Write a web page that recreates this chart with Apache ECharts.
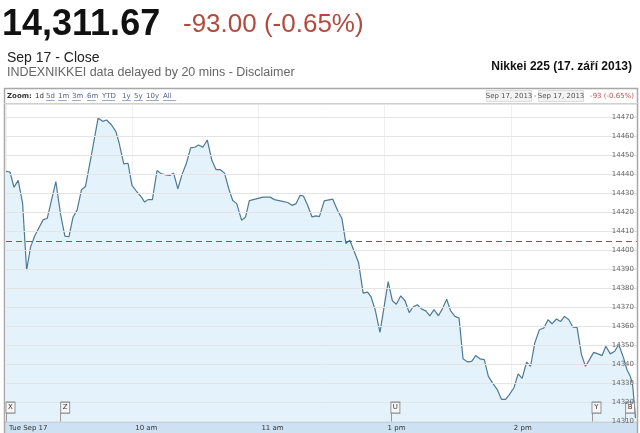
<!DOCTYPE html>
<html>
<head>
<meta charset="utf-8">
<script src="https://cdn.jsdelivr.net/npm/echarts@6/dist/echarts.min.js"></script>
<style>html,body{margin:0;padding:0;background:#fff;}#c{width:640px;height:433px;}</style>
</head>
<body>
<div id="c"></div>
<script>
// trading minutes since 9:00 open (lunch break removed)
const minutes = [0,1.9,3.8,5.8,7.9,9.8,11.7,13.8,15.8,17.7,19.6,23.7,25.9,28,29.9,31.9,33.8,35.9,37.8,40.7,43.8,45.9,47.8,50.1,52.2,53.7,56,58,59.9,62.3,64.4,65.9,67.5,69.6,71.8,73.9,76.2,77.8,79.7,81.7,83.8,85.7,87.8,89.7,91.6,93.6,95.7,97.9,99.9,101.9,103.9,105.9,107.8,109.7,112,113.9,115.7,118.1,122.1,125.6,127.6,131.5,133.9,136,137.9,139.8,141.4,143.4,145.5,147.4,149,151.3,155.3,157.6,159.7,161.6,163.5,165.6,167.6,169.8,171.9,173.5,175.5,177.8,179.8,181.7,183.7,185.6,187.7,189.7,191.7,193.5,195.6,197.7,199.6,201.5,203.5,205.6,207.4,209.5,211.4,213.5,215.4,217.3,219.3,221.4,223.3,225.3,227.4,229.3,231.2,233.5,235.6,237.5,239.4,241.5,243.5,245.4,247.5,249.4,251.4,253.6,255.7,257.7,259.6,261.7,263.6,265.5,267.6,269.5,271.5,273.6,275.5,277.4,279.4,281.5,283.4,285.2,287.3,289.4,291.3,293.6,295.2,296.8,297.9,299.3];
const prices = [14441.3,14441,14433,14436.6,14424.5,14389.5,14401.7,14407.8,14412,14416,14416.6,14436,14419,14407.3,14407,14417.4,14421,14431.7,14433.4,14450.5,14469.3,14467.6,14468.3,14465.8,14462.3,14456.6,14445.3,14445.6,14434,14430.5,14427.8,14425.2,14426.5,14426.5,14441.8,14440,14439.5,14439.2,14440.4,14432.2,14440,14445.3,14453.7,14454,14455.2,14454,14457.8,14447,14442.2,14442.2,14440.4,14432.2,14426,14424.4,14415.7,14417.4,14426,14426.6,14427.8,14427.8,14426.5,14425.6,14425,14423.5,14424.4,14428.7,14428.4,14423.5,14417.4,14418,14417.6,14425.8,14426.8,14420.9,14416.6,14403.5,14405.2,14399.1,14393.5,14377.4,14377.9,14375.6,14368.7,14356.8,14370.4,14383.4,14373.4,14371.6,14376,14373.4,14367.2,14370.1,14371.3,14369,14368.1,14365.5,14368.7,14365.5,14369,14374.2,14368.1,14365.2,14364.3,14342.9,14341.3,14341.6,14344.6,14342.9,14342.5,14333.8,14330.4,14326.9,14321.6,14321.6,14324.2,14327.7,14335,14332.6,14341.1,14339,14351.3,14358.2,14359.1,14363.4,14361.3,14363.8,14362.5,14365.2,14363.4,14359.6,14359.4,14345.1,14339,14342.5,14346.3,14345.5,14344.6,14349.5,14345.5,14346.9,14350.4,14343.4,14337.3,14333.8,14329.5,14311.67];
const previousClose = 14404.67;
const tickMinutes = [0, 60, 120, 180, 240];
const tickLabels = ['Tue Sep 17', '10 am', '11 am', '1 pm', '2 pm'];
const flagLetters = ['X', 'Z', 'U', 'Y', 'B'];
const flagMinutes = [0, 26, 183, 278.6, 294.6];
const zoomLinks = ['5d', '1m', '3m', '6m', 'YTD', '1y', '5y', '10y', 'All'];
const yMin = 14310, yMax = 14476.7, yStep = 10;

const chart = echarts.init(document.getElementById('c'), null, {renderer: 'canvas'});
const lineData = minutes.map((m, i) => [m, prices[i]]);
const flagY = 14317.3;
const small = '"DejaVu Sans", Verdana, sans-serif';
const arial = '"Liberation Sans", Arial, sans-serif';

const markLineData = [
  {yAxis: previousClose, lineStyle: {type: [6, 4], color: '#7d5858', width: 1}}
].concat(flagMinutes.map(m => [
  {coord: [m, yMin], lineStyle: {type: 'solid', color: '#999', width: 1}},
  {coord: [m, flagY - 2.8]}
]));

function txt(text, x, y, font, fill, align) {
  return {type: 'text', z: 50, style: {text: text, x: x, y: y, font: font, fill: fill, align: align || 'left', verticalAlign: 'middle'}};
}

const zoomX = [46, 58, 72, 87, 102, 122, 134, 146, 163];
const zoomGraphics = [];
zoomLinks.forEach((t, i) => {
  zoomGraphics.push(txt(t, zoomX[i], 96, '7px ' + small, '#55618a'));
  const w = t.length * 4.4;
  zoomGraphics.push({type: 'line', z: 50, shape: {x1: zoomX[i], y1: 100.5, x2: zoomX[i] + w, y2: 100.5}, style: {stroke: '#8b93b0', lineWidth: 0.8}});
});

const option = {
  animation: false,
  grid: {left: 6, right: 2, top: 104, bottom: 11.5},
  xAxis: {
    type: 'value', min: 0, max: 300, interval: 60,
    axisLine: {show: false},
    axisTick: {show: true, inside: true, length: 4, lineStyle: {color: '#999'}},
    splitLine: {show: true, lineStyle: {color: '#eef0f2', width: 1}},
    axisLabel: {
      show: true, margin: 3, align: 'left', padding: [0, 0, 0, 3],
      color: '#333', fontSize: 7, fontFamily: small,
      formatter: v => { const i = tickMinutes.indexOf(v); return i >= 0 ? tickLabels[i] : ''; }
    }
  },
  yAxis: {
    type: 'value', position: 'right', min: yMin, max: yMax, interval: yStep,
    axisLine: {show: false}, axisTick: {show: false},
    splitLine: {show: true, lineStyle: {color: '#e4e4e4', width: 1}},
    axisLabel: {
      inside: true, margin: 3, color: '#666', fontSize: 7, fontFamily: small,
      padding: [0, 0, 3, 0],
      formatter: v => (Math.abs(v % yStep) < 1e-6 ? String(Math.round(v)) : '')
    },
    z: 5
  },
  series: [{
    type: 'line', data: lineData, showSymbol: false, smooth: false,
    lineStyle: {color: '#4f7a93', width: 1.2},
    areaStyle: {color: '#e4f3fb', origin: 'start', opacity: 1},
    z: 2,
    markLine: {silent: true, symbol: 'none', label: {show: false}, data: markLineData},
    markPoint: {
      silent: true,
      symbol: 'rect', symbolSize: [9, 11], symbolOffset: [4.5, 0],
      itemStyle: {color: '#f6f6f6', borderColor: '#8a8a8a', borderWidth: 1},
      label: {show: true, position: 'inside', color: '#333', fontSize: 7, fontFamily: small},
      data: flagMinutes.map((m, i) => ({coord: [m, flagY], value: flagLetters[i], label: {formatter: flagLetters[i]}}))
    }
  }],
  graphic: [
    {type: 'rect', z: -10, shape: {x: 4, y: 421.5, width: 634, height: 12}, style: {fill: '#cde1f3'}},
    {type: 'line', z: -9, shape: {x1: 4, y1: 422, x2: 638, y2: 422}, style: {stroke: '#a9c3da', lineWidth: 1}},
    {type: 'rect', z: 100, shape: {x: 4.5, y: 88.5, width: 633, height: 346}, style: {fill: 'none', stroke: '#a8a8a8', lineWidth: 1.5}},
    {type: 'line', z: 100, shape: {x1: 4, y1: 103.5, x2: 638, y2: 103.5}, style: {stroke: '#d0d0d0', lineWidth: 1}},
    txt('14,311.67', 2, 25.5, 'bold 36px ' + arial, '#111'),
    txt('-93.00 (-0.65%)', 183, 24.5, '26px ' + arial, '#b24a3d'),
    txt('Sep 17 - Close', 7, 57.7, '14px ' + arial, '#222'),
    txt('INDEXNIKKEI data delayed by 20 mins - Disclaimer', 7, 72.5, '12.5px ' + arial, '#666'),
    txt('Nikkei 225 (17. září 2013)', 632, 67, 'bold 12px ' + arial, '#111', 'right'),
    txt('Zoom:', 7, 96, 'bold 7px ' + small, '#333'),
    txt('1d', 35, 96, '7px ' + small, '#333'),
    {type: 'rect', z: 40, shape: {x: 486.5, y: 90.5, width: 45, height: 11}, style: {fill: '#f3f3f3', stroke: '#dddddd'}},
    txt('Sep 17, 2013', 509, 96, '7px ' + small, '#555', 'center'),
    txt('-', 535, 96, '7px ' + small, '#555', 'center'),
    {type: 'rect', z: 40, shape: {x: 538.5, y: 90.5, width: 45, height: 11}, style: {fill: '#f3f3f3', stroke: '#dddddd'}},
    txt('Sep 17, 2013', 561, 96, '7px ' + small, '#555', 'center'),
    txt('-93 (-0.65%)', 634, 96, '7px ' + small, '#c0504d', 'right')
  ].concat(zoomGraphics)
};
chart.setOption(option);
</script>
</body>
</html>
